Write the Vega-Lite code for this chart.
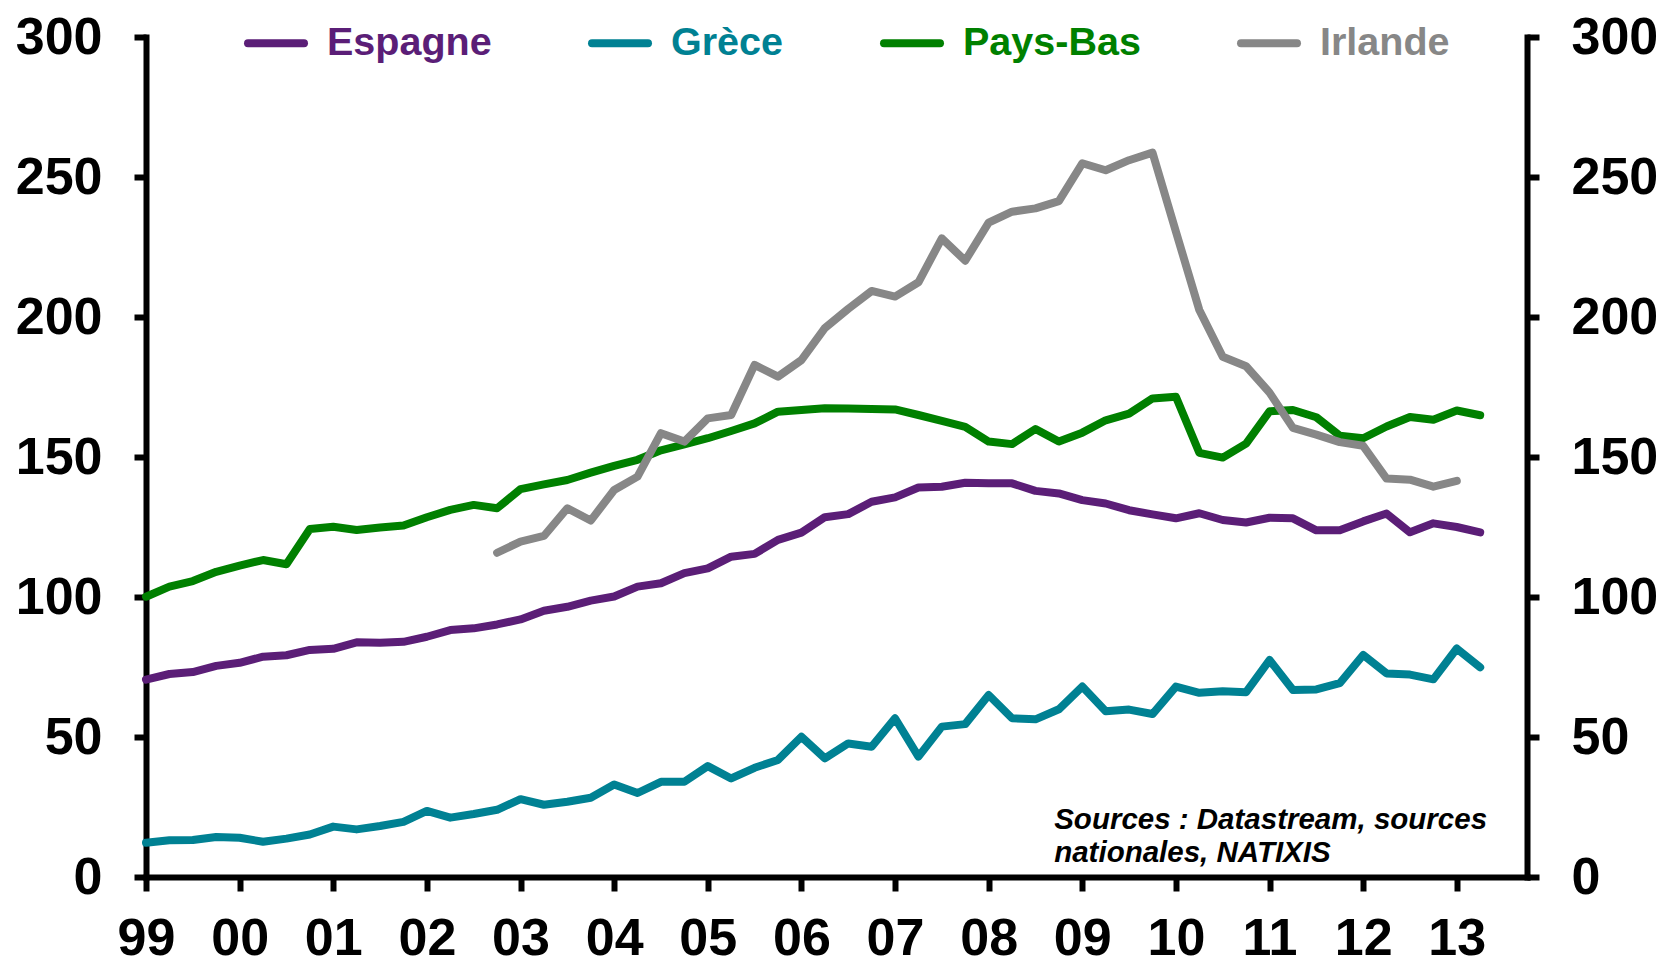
{
  "$schema": "https://vega.github.io/schema/vega-lite/v6.json",
  "width": 1381,
  "height": 840,
  "autosize": {"type": "none"},
  "padding": {"left": 146, "top": 37, "right": 137, "bottom": 87},
  "background": "white",
  "config": {"view": {"stroke": null}, "font": "Liberation Sans"},
  "datasets": {
    "dette": [
      {"t": 1999, "Espagne": 70.5, "Grèce": 12.2, "Pays-Bas": 100.1},
      {"t": 1999.25, "Espagne": 72.5, "Grèce": 13.1, "Pays-Bas": 103.7},
      {"t": 1999.5, "Espagne": 73.2, "Grèce": 13.2, "Pays-Bas": 105.7},
      {"t": 1999.75, "Espagne": 75.4, "Grèce": 14.3, "Pays-Bas": 109.0},
      {"t": 2000, "Espagne": 76.5, "Grèce": 14.0, "Pays-Bas": 111.2},
      {"t": 2000.25, "Espagne": 78.7, "Grèce": 12.6, "Pays-Bas": 113.2},
      {"t": 2000.5, "Espagne": 79.2, "Grèce": 13.7, "Pays-Bas": 111.7},
      {"t": 2000.75, "Espagne": 81.1, "Grèce": 15.2, "Pays-Bas": 124.3},
      {"t": 2001, "Espagne": 81.5, "Grèce": 18.0, "Pays-Bas": 125.1},
      {"t": 2001.25, "Espagne": 83.8, "Grèce": 17.0, "Pays-Bas": 123.9},
      {"t": 2001.5, "Espagne": 83.7, "Grèce": 18.2, "Pays-Bas": 124.8},
      {"t": 2001.75, "Espagne": 84.0, "Grèce": 19.7, "Pays-Bas": 125.5},
      {"t": 2002, "Espagne": 85.8, "Grèce": 23.6, "Pays-Bas": 128.5},
      {"t": 2002.25, "Espagne": 88.2, "Grèce": 21.2, "Pays-Bas": 131.1},
      {"t": 2002.5, "Espagne": 88.8, "Grèce": 22.5, "Pays-Bas": 132.9},
      {"t": 2002.75, "Espagne": 90.2, "Grèce": 24.0, "Pays-Bas": 131.7, "Irlande": 115.8},
      {"t": 2003, "Espagne": 92.0, "Grèce": 27.8, "Pays-Bas": 138.5, "Irlande": 119.8},
      {"t": 2003.25, "Espagne": 95.1, "Grèce": 25.8, "Pays-Bas": 140.2, "Irlande": 121.8},
      {"t": 2003.5, "Espagne": 96.5, "Grèce": 26.9, "Pays-Bas": 141.8, "Irlande": 131.7},
      {"t": 2003.75, "Espagne": 98.7, "Grèce": 28.3, "Pays-Bas": 144.4, "Irlande": 127.3},
      {"t": 2004, "Espagne": 100.2, "Grèce": 33.0, "Pays-Bas": 146.8, "Irlande": 138.2},
      {"t": 2004.25, "Espagne": 103.7, "Grèce": 30.0, "Pays-Bas": 149.0, "Irlande": 143.0},
      {"t": 2004.5, "Espagne": 104.9, "Grèce": 34.0, "Pays-Bas": 152.4, "Irlande": 158.5},
      {"t": 2004.75, "Espagne": 108.5, "Grèce": 34.0, "Pays-Bas": 154.5, "Irlande": 155.5},
      {"t": 2005, "Espagne": 110.2, "Grèce": 39.6, "Pays-Bas": 156.7, "Irlande": 163.8},
      {"t": 2005.25, "Espagne": 114.4, "Grèce": 35.2, "Pays-Bas": 159.3, "Irlande": 165.0},
      {"t": 2005.5, "Espagne": 115.4, "Grèce": 39.0, "Pays-Bas": 162.0, "Irlande": 182.9},
      {"t": 2005.75, "Espagne": 120.4, "Grèce": 41.8, "Pays-Bas": 166.2, "Irlande": 178.7},
      {"t": 2006, "Espagne": 123.0, "Grèce": 50.1, "Pays-Bas": 166.8, "Irlande": 184.6},
      {"t": 2006.25, "Espagne": 128.5, "Grèce": 42.4, "Pays-Bas": 167.4, "Irlande": 196.0},
      {"t": 2006.5, "Espagne": 129.6, "Grèce": 47.7, "Pays-Bas": 167.3, "Irlande": 202.9},
      {"t": 2006.75, "Espagne": 134.0, "Grèce": 46.5, "Pays-Bas": 167.1, "Irlande": 209.3},
      {"t": 2007, "Espagne": 135.6, "Grèce": 56.7, "Pays-Bas": 167.0, "Irlande": 207.3},
      {"t": 2007.25, "Espagne": 139.1, "Grèce": 43.0, "Pays-Bas": 165.0, "Irlande": 212.4},
      {"t": 2007.5, "Espagne": 139.4, "Grèce": 53.7, "Pays-Bas": 162.9, "Irlande": 228.1},
      {"t": 2007.75, "Espagne": 140.8, "Grèce": 54.6, "Pays-Bas": 160.8, "Irlande": 220.1},
      {"t": 2008, "Espagne": 140.6, "Grèce": 65.0, "Pays-Bas": 155.5, "Irlande": 233.7},
      {"t": 2008.25, "Espagne": 140.6, "Grèce": 56.7, "Pays-Bas": 154.6, "Irlande": 237.6},
      {"t": 2008.5, "Espagne": 137.9, "Grèce": 56.3, "Pays-Bas": 160.0, "Irlande": 238.8},
      {"t": 2008.75, "Espagne": 137.0, "Grèce": 59.9, "Pays-Bas": 155.5, "Irlande": 241.4},
      {"t": 2009, "Espagne": 134.6, "Grèce": 68.0, "Pays-Bas": 158.7, "Irlande": 254.9},
      {"t": 2009.25, "Espagne": 133.4, "Grèce": 59.2, "Pays-Bas": 163.1, "Irlande": 252.4},
      {"t": 2009.5, "Espagne": 131.0, "Grèce": 59.8, "Pays-Bas": 165.5, "Irlande": 256.0},
      {"t": 2009.75, "Espagne": 129.5, "Grèce": 58.2, "Pays-Bas": 170.9, "Irlande": 258.7},
      {"t": 2010, "Espagne": 128.1, "Grèce": 68.0, "Pays-Bas": 171.5, "Irlande": 230.5},
      {"t": 2010.25, "Espagne": 129.9, "Grèce": 65.8, "Pays-Bas": 151.5, "Irlande": 202.5},
      {"t": 2010.5, "Espagne": 127.5, "Grèce": 66.3, "Pays-Bas": 149.8, "Irlande": 185.8},
      {"t": 2010.75, "Espagne": 126.6, "Grèce": 66.0, "Pays-Bas": 154.8, "Irlande": 182.4},
      {"t": 2011, "Espagne": 128.3, "Grèce": 77.5, "Pays-Bas": 166.3, "Irlande": 173.0},
      {"t": 2011.25, "Espagne": 128.1, "Grèce": 66.8, "Pays-Bas": 166.8, "Irlande": 160.4},
      {"t": 2011.5, "Espagne": 123.8, "Grèce": 67.0, "Pays-Bas": 164.2, "Irlande": 158.0},
      {"t": 2011.75, "Espagne": 123.8, "Grèce": 69.2, "Pays-Bas": 157.6, "Irlande": 155.3},
      {"t": 2012, "Espagne": 127.0, "Grèce": 79.3, "Pays-Bas": 156.7, "Irlande": 154.0},
      {"t": 2012.25, "Espagne": 129.8, "Grèce": 72.7, "Pays-Bas": 160.9, "Irlande": 142.3},
      {"t": 2012.5, "Espagne": 123.1, "Grèce": 72.3, "Pays-Bas": 164.3, "Irlande": 141.9},
      {"t": 2012.75, "Espagne": 126.3, "Grèce": 70.6, "Pays-Bas": 163.3, "Irlande": 139.4},
      {"t": 2013, "Espagne": 125.0, "Grèce": 81.6, "Pays-Bas": 166.6, "Irlande": 141.5},
      {"t": 2013.25, "Espagne": 123.1, "Grèce": 74.9, "Pays-Bas": 164.9}
    ]
  },
  "layer": [
    {
      "data": {"name": "dette"},
      "transform": [{"fold": ["Espagne", "Grèce", "Pays-Bas", "Irlande"], "as": ["pays", "v"]}],
      "mark": {"type": "line", "strokeWidth": 8, "strokeCap": "round", "strokeJoin": "round"},
      "encoding": {
        "x": {
          "field": "t", "type": "quantitative",
          "scale": {"domain": [1999, 2013.75], "nice": false, "zero": false},
          "axis": {
            "title": null, "grid": false,
            "values": [1999, 2000, 2001, 2002, 2003, 2004, 2005, 2006, 2007, 2008, 2009, 2010, 2011, 2012, 2013],
            "labelExpr": "substring(toString(datum.value), 2)",
            "domainColor": "black", "domainWidth": 6, "domainCap": "square",
            "tickColor": "black", "tickWidth": 6, "tickSize": 14,
            "labelFont": "Liberation Sans", "labelFontSize": 52, "labelFontWeight": "bold", "labelColor": "black",
            "labelPadding": 22, "labelFlush": false, "labelOverlap": false
          }
        },
        "y": {
          "field": "v", "type": "quantitative",
          "scale": {"domain": [0, 300], "nice": false},
          "axis": {
            "orient": "left", "title": null, "grid": false,
            "values": [0, 50, 100, 150, 200, 250, 300],
            "domainColor": "black", "domainWidth": 6, "domainCap": "square",
            "tickColor": "black", "tickWidth": 6, "tickSize": 12,
            "labelFont": "Liberation Sans", "labelFontSize": 52, "labelFontWeight": "bold", "labelColor": "black",
            "labelPadding": 32, "labelFlush": false, "labelOverlap": false
          }
        },
        "color": {
          "field": "pays", "type": "nominal",
          "scale": {"domain": ["Espagne", "Grèce", "Pays-Bas", "Irlande"], "range": ["#5B1E77", "#008193", "#008000", "#878787"]},
          "legend": {
            "orient": "none", "legendX": 98, "legendY": -26, "direction": "horizontal", "title": null,
            "padding": 0, "symbolType": "stroke", "symbolStrokeWidth": 8, "symbolSize": 3136,
            "labelFont": "Liberation Sans", "labelFontSize": 39.5, "labelFontWeight": "bold", "labelOffset": 19,
            "labelLimit": 400, "columnPadding": 84,
            "encode": {
              "labels": {"update": {"fill": {"scale": "color", "field": "value"}}},
              "symbols": {"update": {"strokeCap": {"value": "round"}}}
            }
          }
        }
      }
    },
    {
      "data": {"name": "dette"},
      "transform": [{"fold": ["Espagne", "Grèce", "Pays-Bas", "Irlande"], "as": ["pays", "v"]}],
      "mark": {"type": "line", "strokeOpacity": 0},
      "encoding": {
        "x": {"field": "t", "type": "quantitative"},
        "y": {
          "field": "v", "type": "quantitative",
          "axis": {
            "orient": "right", "title": null, "grid": false,
            "values": [0, 50, 100, 150, 200, 250, 300],
            "domainColor": "black", "domainWidth": 6, "domainCap": "square",
            "tickColor": "black", "tickWidth": 6, "tickSize": 12,
            "labelFont": "Liberation Sans", "labelFontSize": 52, "labelFontWeight": "bold", "labelColor": "black",
            "labelPadding": 32, "labelFlush": false, "labelOverlap": false
          }
        },
        "detail": {"field": "pays", "type": "nominal"}
      }
    },
    {
      "data": {"values": [{}]},
      "mark": {"type": "text", "align": "left", "baseline": "top", "font": "Liberation Sans", "fontSize": 29.5, "fontWeight": "bold", "fontStyle": "italic", "color": "black", "lineHeight": 33},
      "encoding": {
        "x": {"datum": 2008.7, "type": "quantitative"},
        "y": {"datum": 25.5, "type": "quantitative", "axis": null},
        "text": {"value": ["Sources : Datastream, sources", "nationales, NATIXIS"]}
      }
    }
  ],
  "resolve": {"axis": {"y": "independent"}}
}
